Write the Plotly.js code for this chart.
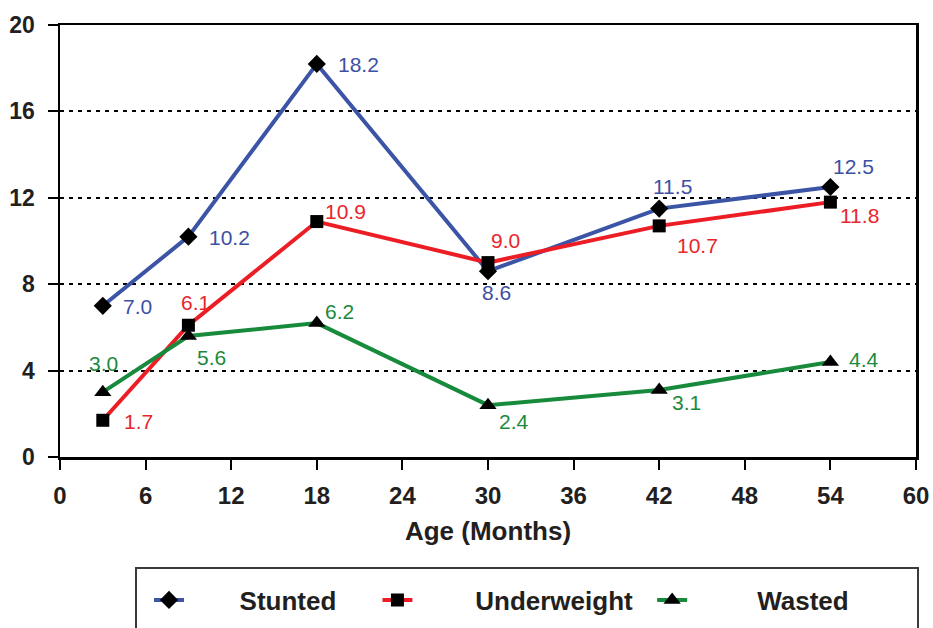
<!DOCTYPE html>
<html><head><meta charset="utf-8">
<script src="https://cdn.plot.ly/plotly-3.0.1.min.js"></script>
<style>body{margin:0;background:#fff}#c{width:933px;height:628px}</style>
</head><body><div id="c"></div>
<script>
const ages = [3, 9, 18, 30, 42, 54];
const stunted = [7.0, 10.2, 18.2, 8.6, 11.5, 12.5];
const underweight = [1.7, 6.1, 10.9, 9.0, 10.7, 11.8];
const wasted = [3.0, 5.6, 6.2, 2.4, 3.1, 4.4];
const seriesNames = ['Stunted', 'Underweight', 'Wasted'];
const xTicks = [0, 6, 12, 18, 24, 30, 36, 42, 48, 54, 60];
const yTicks = [0, 4, 8, 12, 16, 20];

const FONT = 'Liberation Sans, Arial, Helvetica, sans-serif';
const colors = ['#3b54a6', '#ec1d25', '#178a3c'];
const labelColors = ['#3d50a3', '#e8262b', '#1b8a3d'];
const symbols = ['diamond', 'square', 'triangle-up'];
const msizes = [14, 13, 15];
const allY = [stunted, underweight, wasted];
// label offsets in pixels (dx, dy) per point
const offs = [
  [[35,0],[41,0],[42,0],[8,-20],[13,23],[23,22]],
  [[36,0],[7,24],[29,11],[17,23],[38,-19],[29,-12]],
  [[1,30],[23,-20],[23,13],[26,-15],[27,-11],[34,3]]
];
const lead = [7, 8, 9];
const trail = [5, 2, 0];
const nb = n => '\u00a0'.repeat(n);
const traces = allY.map((ys, i) => ({
  type: 'scatter', mode: 'lines+markers', x: ages, y: ys,
  name: nb(lead[i]) + seriesNames[i] + nb(trail[i]),
  line: {color: colors[i], width: 4},
  marker: {symbol: symbols[i], size: msizes[i], color: '#000'},
  cliponaxis: false
}));
const annotations = [];
allY.forEach((ys, i) => ys.forEach((v, j) => {
  annotations.push({x: ages[j], y: v, xref: 'x', yref: 'y', text: v.toFixed(1),
    showarrow: false, xshift: offs[i][j][0], yshift: offs[i][j][1] - 1,
    font: {family: FONT, size: 21, color: labelColors[i]}});
}));
const px2x = p => (p - 60) / 856;
const px2y = p => (457 - p) / 432;
const layout = {
  width: 933, height: 628,
  margin: {l: 60, r: 17, t: 25, b: 171, autoexpand: false},
  paper_bgcolor: '#fff', plot_bgcolor: '#fff',
  font: {family: FONT, color: '#231f20'},
  showlegend: true,
  legend: {orientation: 'h', x: px2x(149), y: px2y(600), xanchor: 'left', yanchor: 'middle',
    borderwidth: 0, bgcolor: 'rgba(0,0,0,0)',
    font: {family: FONT, size: 26, weight: 'bold', color: '#231f20'},
    itemwidth: 30},
  shapes: [{type: 'rect', xref: 'paper', yref: 'paper',
    x0: px2x(136), x1: px2x(918), y0: px2y(568), y1: px2y(650),
    line: {color: '#3a3a3a', width: 2}, fillcolor: 'rgba(0,0,0,0)'}],
  xaxis: {range: [0, 60], tickvals: xTicks, ticktext: xTicks.map(String),
    showgrid: false, zeroline: false, showline: true, linecolor: '#000', linewidth: 2.5,
    mirror: true, ticks: 'outside', ticklen: 10, tickwidth: 2, tickcolor: '#000',
    ticklabelstandoff: 6,
    tickfont: {family: FONT, size: 24, weight: 'bold', color: '#231f20'},
    title: {text: 'Age (Months)', font: {family: FONT, size: 26, weight: 'bold', color: '#231f20'}, standoff: 14}},
  yaxis: {range: [0, 20], tickvals: yTicks, ticktext: yTicks.map(String),
    showgrid: true, gridcolor: '#000', griddash: '4px,5px', gridwidth: 2,
    zeroline: false, showline: true, linecolor: '#000', linewidth: 2.5, mirror: true,
    ticks: 'outside', ticklen: 10, tickwidth: 2, tickcolor: '#000',
    ticklabelstandoff: 8,
    tickfont: {family: FONT, size: 23, weight: 'bold', color: '#231f20'}},
  annotations: annotations
};
Plotly.newPlot('c', traces, layout, {displayModeBar: false, staticPlot: true});
</script></body></html>
